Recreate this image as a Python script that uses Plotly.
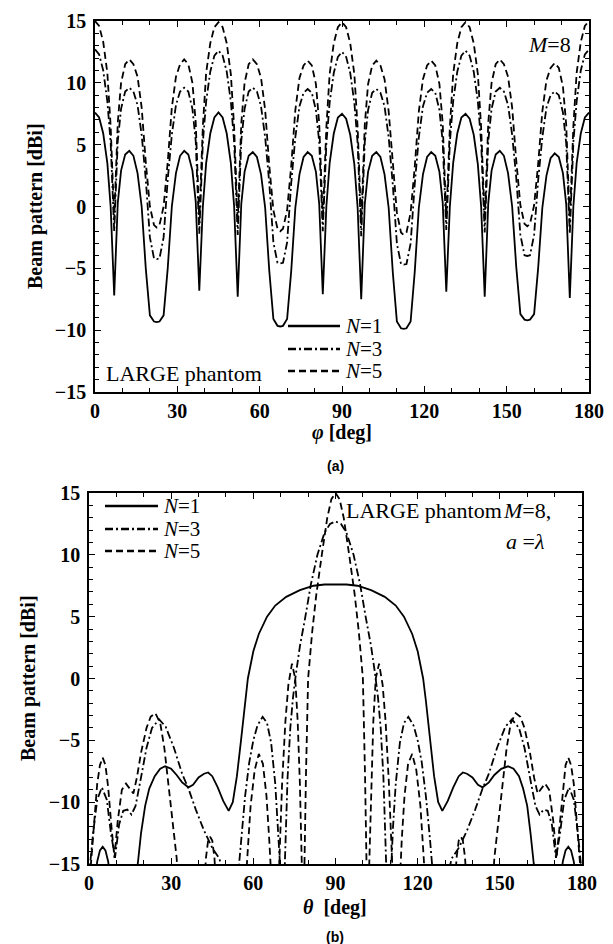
import plotly.graph_objects as go

# ---------------- DATA: (a) azimuth pattern ----------------
phi_deg = [
    0, 1.5, 3, 4.5, 5.7, 7, 8.3, 9.5, 11, 12.5, 14, 15.5, 17, 18.5, 20, 21.5, 22.5, 23.5, 25, 26.5, 28, 29.5, 31, 32.5, 34, 35.5, 36.7, 38, 39.3, 40.5, 42, 43.5,
    45, 46.5, 48, 49.5, 50.7, 52, 53.3, 54.5, 56, 57.5, 59, 60.5, 62, 63.5, 65, 66.5, 67.5, 68.5, 70, 71.5, 73, 74.5, 76, 77.5, 79, 80.5, 81.7, 83, 84.3, 85.5, 87, 88.5,
    90, 91.5, 93, 94.5, 95.7, 97, 98.3, 99.5, 101, 102.5, 104, 105.5, 107, 108.5, 110, 111.5, 112.5, 113.5, 115, 116.5, 118, 119.5, 121, 122.5, 124, 125.5, 126.7, 128, 129.3, 130.5, 132, 133.5,
    135, 136.5, 138, 139.5, 140.7, 142, 143.3, 144.5, 146, 147.5, 149, 150.5, 152, 153.5, 155, 156.5, 157.5, 158.5, 160, 161.5, 163, 164.5, 166, 167.5, 169, 170.5, 171.7, 173, 174.3, 175.5, 177, 178.5,
    180,
]
az_n1 = [
    7.6, 7.2, 5.9, 3.5, 0.0, -7.2, 0.3, 2.9, 4.2, 4.5, 4.1, 2.7, 0.0, -5.0, -8.8, -9.3, -9.35, -9.3, -8.8, -5.0, 0.0, 2.7, 4.1, 4.5, 4.2, 2.9, 0.4, -6.8, 0.0, 3.5, 5.9, 7.2,
    7.6, 7.2, 5.9, 3.5, 0.0, -7.3, 0.2, 2.8, 4.1, 4.4, 4.0, 2.6, -0.1, -5.2, -9.1, -9.65, -9.7, -9.65, -9.1, -5.2, -0.1, 2.6, 4.0, 4.4, 4.1, 2.8, 0.2, -7.1, 0.0, 3.5, 5.9, 7.2,
    7.5, 7.1, 5.8, 3.4, -0.1, -7.5, 0.2, 2.8, 4.1, 4.4, 4.0, 2.6, -0.1, -5.3, -9.3, -9.85, -9.9, -9.85, -9.3, -5.3, -0.1, 2.6, 4.0, 4.4, 4.1, 2.8, 0.3, -6.9, 0.0, 3.5, 5.9, 7.2,
    7.5, 7.1, 5.8, 3.4, 0.0, -7.3, 0.3, 2.9, 4.2, 4.5, 4.1, 2.7, 0.0, -4.9, -8.7, -9.15, -9.2, -9.15, -8.7, -4.9, -0.1, 2.5, 3.9, 4.3, 4.0, 2.7, 0.2, -7.4, 0.0, 3.5, 5.9, 7.2,
    7.6,
]
az_n3 = [
    12.7, 12.3, 11.0, 8.5, 5.2, -2.0, 5.3, 7.9, 9.3, 9.6, 9.3, 8.2, 5.8, 2.2, -2.5, -4.2, -4.25, -4.2, -2.5, 2.2, 5.8, 8.2, 9.3, 9.6, 9.3, 7.9, 5.3, -2.2, 5.2, 8.5, 10.9, 12.2,
    12.6, 12.2, 10.9, 8.5, 5.2, -2.3, 5.3, 7.9, 9.3, 9.6, 9.3, 8.1, 5.6, 1.9, -2.9, -4.55, -4.6, -4.55, -2.9, 1.9, 5.6, 8.1, 9.2, 9.5, 9.2, 7.8, 5.2, -2.0, 5.1, 8.4, 10.8, 12.1,
    12.5, 12.1, 10.8, 8.4, 5.1, -2.4, 5.2, 7.8, 9.2, 9.5, 9.2, 8.1, 5.6, 1.8, -3.0, -4.65, -4.7, -4.65, -3.0, 1.8, 5.6, 8.1, 9.2, 9.5, 9.2, 7.8, 5.2, -1.9, 5.2, 8.5, 10.9, 12.2,
    12.6, 12.2, 10.9, 8.5, 5.2, -2.1, 5.3, 7.9, 9.3, 9.6, 9.3, 8.2, 5.8, 2.3, -2.3, -3.95, -4.0, -3.95, -2.3, 2.2, 5.6, 8.0, 9.0, 9.3, 9.0, 7.6, 5.1, -2.2, 5.2, 8.5, 11.0, 12.3,
    12.7,
]
az_n5 = [
    15.0, 14.6, 13.3, 10.8, 6.5, -1.0, 6.8, 10.0, 11.5, 11.9, 11.5, 10.5, 8.0, 3.6, 0.0, -1.5, -1.7, -1.5, 0.0, 3.6, 8.0, 10.5, 11.5, 11.9, 11.5, 10.0, 6.8, -1.2, 6.5, 10.8, 13.2, 14.5,
    14.9, 14.5, 13.2, 10.7, 6.4, -1.3, 6.7, 10.0, 11.5, 11.9, 11.5, 10.4, 7.8, 3.3, -0.3, -1.8, -2.0, -1.8, -0.3, 3.3, 7.8, 10.4, 11.4, 11.8, 11.4, 9.9, 6.7, -1.1, 6.4, 10.7, 13.2, 14.5,
    14.9, 14.5, 13.2, 10.7, 6.4, -1.4, 6.6, 9.9, 11.4, 11.8, 11.4, 10.3, 7.7, 3.2, -0.5, -2.1, -2.3, -2.1, -0.5, 3.2, 7.7, 10.3, 11.4, 11.8, 11.4, 9.9, 6.7, -1.0, 6.4, 10.7, 13.2, 14.5,
    14.9, 14.5, 13.2, 10.7, 6.4, -1.2, 6.8, 10.0, 11.5, 11.9, 11.5, 10.5, 8.0, 3.7, 0.1, -1.4, -1.6, -1.4, 0.1, 3.5, 7.7, 10.2, 11.2, 11.6, 11.2, 9.7, 6.6, -1.3, 6.5, 10.8, 13.3, 14.6,
    15.0,
]

# ---------------- DATA: (b) elevation pattern ----------------
el_n1_theta = [0, 2, 3, 4, 5, 6, 7, 8, 10, 14, 17.8, 19, 20.5, 22, 24, 26, 27.8, 30, 32, 34, 36.3, 38, 40, 42, 43.5, 45, 47, 49, 51, 52.5, 54, 55.5, 57, 58, 60, 62, 65, 68, 72, 77, 82, 86, 90,
               94, 98, 103, 108, 112, 115, 118, 120, 122, 123, 124.5, 126, 127.5, 129, 131, 133, 135, 136.5, 138, 140, 142, 143.7, 146, 148, 150.5, 153, 155, 157, 158.5, 160, 161.2, 162.4, 166, 170, 172, 173, 174, 175, 176, 177, 178, 180]
el_n1 = [-19, -16.5, -14.8, -13.9, -13.6, -13.9, -14.8, -16.5, -20, -20, -15, -12.5, -10.3, -8.9, -7.9, -7.3, -7.1, -7.3, -7.8, -8.4, -8.8, -8.6, -8.0, -7.7, -7.6, -7.9, -8.8, -9.9, -10.7, -10.0, -7.9, -5.0, -1.8, 0.0, 2.2, 3.6, 5.0, 5.9, 6.6, 7.15, 7.5, 7.6, 7.6,
         7.6, 7.5, 7.15, 6.6, 5.9, 5.0, 3.6, 2.2, 0.0, -1.8, -5.0, -7.9, -10.0, -10.7, -9.9, -8.8, -7.9, -7.6, -7.7, -8.0, -8.6, -8.8, -8.4, -7.8, -7.3, -7.1, -7.3, -7.9, -8.9, -10.3, -12.5, -15, -20, -20, -16.5, -14.8, -13.9, -13.6, -13.9, -14.8, -16.5, -19]

el_n3_theta = [0, 1.5, 3, 4.7, 6.5, 8, 9.5, 11, 12.5, 14, 15.5, 17, 19, 21, 23, 25.6, 28, 31, 34, 36.3, 39, 42, 45, 47.7, 49.5, 52, 54, 55.5, 57, 58.5, 60, 61.5, 63.4, 65, 66.5, 68, 69, 70, 70.8, 71.5, 72.5, 73.5, 74.5, 75.5, 77, 79, 81, 83.4, 86, 88, 90,
               92, 94, 96.6, 99, 101, 103, 104.5, 105.5, 106.5, 107.5, 108.5, 109.2, 110, 111, 112, 113.5, 115, 116.6, 118.5, 120, 121.5, 123, 124.5, 126, 128, 130.5, 132.3, 135, 138, 141, 143.7, 146, 149, 152, 154.4, 157, 159, 161, 163, 164.5, 166, 167.5, 169, 170.5, 172, 173.5, 175.3, 177, 178.5, 180]
el_n3 = [-16, -12.5, -9.8, -8.8, -9.8, -12.5, -14.5, -11.8, -10.7, -10.6, -11.0, -10.3, -8.0, -5.6, -4.0, -3.3, -3.9, -5.6, -7.7, -8.9, -10.6, -12.3, -13.7, -14.6, -17, -20, -17, -13, -9.5, -6.8, -5.0, -3.8, -3.1, -3.6, -5.2, -8.5, -12, -17, -19, -15, -8.0, -4.0, -1.5, 0.3, 2.6, 5.0, 7.6, 10.0, 11.8, 12.5, 12.7,
         12.5, 11.8, 10.0, 7.6, 5.0, 2.6, 0.3, -1.5, -4.0, -8.0, -15, -19, -17, -12, -8.5, -5.2, -3.6, -3.1, -3.8, -5.0, -6.8, -9.5, -13, -17, -20, -17, -14.6, -13.7, -12.3, -10.6, -8.9, -7.7, -5.6, -3.9, -3.3, -4.0, -5.6, -8.0, -10.3, -11.0, -10.6, -10.7, -11.8, -14.5, -12.5, -9.8, -8.8, -9.8, -12.5, -16]

el_n5_theta = [0, 1.5, 3, 4, 5, 6, 7, 8.2, 9.3, 10.5, 12, 13.5, 15, 16.2, 17.5, 19, 21, 22.5, 24.2, 26, 27.5, 29, 30.5, 32, 33.5, 38, 41.5, 42.7, 43.5, 44.2, 45, 45.8, 47, 52, 56.5, 57.8, 59, 60.5, 62, 63.5, 64.8, 65.8, 66.8, 68, 69.3, 70.5, 71.7, 72.8, 74.1, 75.3, 76.2, 77, 77.8, 78.3, 79.2, 80, 81.5, 83, 85, 87, 88.5, 90,
               91.5, 93, 95, 97, 98.5, 100, 100.8, 101.7, 102.2, 103, 103.8, 104.7, 105.9, 107.2, 108.3, 109.5, 110.7, 112, 113.2, 114.2, 115.2, 116.5, 118, 119.5, 121, 122.2, 123.5, 128, 133, 134.2, 135, 135.8, 136.5, 137.3, 138.5, 142, 146.5, 148, 149.5, 151, 152.5, 154, 155.8, 157.5, 159, 161, 162.5, 163.8, 165, 166.5, 168, 169.5, 170.7, 171.8, 173, 174, 175, 176, 177, 178.5, 180]
el_n5 = [-17, -12.5, -8.5, -7.0, -6.4, -7.0, -8.8, -12, -14.5, -11.5, -9.0, -8.5, -8.9, -9.3, -8.0, -6.0, -4.0, -3.1, -2.8, -3.6, -5.6, -8.5, -11.5, -14.5, -20, -25, -19, -14.5, -13.1, -12.8, -13.1, -14.5, -19, -25, -19, -14.5, -10.3, -7.4, -6.1, -6.9, -9.5, -13, -18, -22, -16, -8.5, -3.5, -0.5, 1.2, 0.0, -3.5, -8.5, -16, -20, -8, 0.0, 3.8, 6.8, 10.0, 13.0, 14.5, 15.0,
         14.5, 13.0, 10.0, 6.8, 3.8, 0.0, -8, -20, -16, -8.5, -3.5, 0.0, 1.2, -0.5, -3.5, -8.5, -16, -22, -18, -13, -9.5, -6.9, -6.1, -7.4, -10.3, -14.5, -19, -25, -19, -14.5, -13.1, -12.8, -13.1, -14.5, -19, -25, -20, -14.5, -11.5, -8.5, -5.6, -3.6, -2.8, -3.1, -4.0, -6.0, -8.0, -9.3, -8.9, -8.5, -9.0, -11.5, -14.5, -12, -8.8, -7.0, -6.4, -7.0, -8.5, -12.5, -17]

series_labels = ["<i>N</i>=1", "<i>N</i>=3", "<i>N</i>=5"]
x_ticks = [0, 30, 60, 90, 120, 150, 180]
y_ticks = [-15, -10, -5, 0, 5, 10, 15]

assert len(phi_deg) == len(az_n1) == len(az_n3) == len(az_n5)
assert len(el_n1_theta) == len(el_n1)
assert len(el_n3_theta) == len(el_n3)
assert len(el_n5_theta) == len(el_n5)

# ---------------- FIGURE ----------------
W, H = 613, 944
SERIF = "Liberation Serif"
SANS = "Liberation Sans"
DASHES = ["solid", "8px,3px,2px,3px", "7px,4px"]
LW = 1.8

def px(x):
    return x / W

def py(y):
    return 1 - y / H

fig = go.Figure()
for ys, dash, name in zip([az_n1, az_n3, az_n5], DASHES, series_labels):
    fig.add_trace(go.Scatter(x=phi_deg, y=ys, mode="lines", name=name, showlegend=False,
                             line=dict(color="black", width=LW, dash=dash), xaxis="x", yaxis="y"))
for xs, ys, dash, name in zip([el_n1_theta, el_n3_theta, el_n5_theta], [el_n1, el_n3, el_n5], DASHES, series_labels):
    fig.add_trace(go.Scatter(x=xs, y=ys, mode="lines", name=name, showlegend=False,
                             line=dict(color="black", width=LW, dash=dash), xaxis="x2", yaxis="y2"))

tickfont = dict(family=SERIF, size=20, color="black", weight="bold")

def xaxis(domain, anchor):
    return dict(domain=domain, anchor=anchor, range=[0, 180], tickvals=x_ticks, ticks="inside",
                ticklen=6, tickwidth=1.3, tickcolor="black", mirror="allticks", showline=True,
                linecolor="black", linewidth=1.6, showgrid=False, zeroline=False, tickfont=tickfont,
                ticklabelstandoff=0, automargin=False,
                minor=dict(dtick=10, ticks="inside", ticklen=4, tickwidth=1.1, tickcolor="black", showgrid=False))

def yaxis(domain, anchor):
    return dict(domain=domain, anchor=anchor, range=[-15, 15], tickvals=y_ticks, ticks="inside",
                ticklen=6, tickwidth=1.3, tickcolor="black", mirror="allticks", showline=True,
                linecolor="black", linewidth=1.6, showgrid=False, zeroline=False, tickfont=tickfont,
                ticklabelstandoff=3, automargin=False,
                minor=dict(dtick=1, ticks="inside", ticklen=4, tickwidth=1.1, tickcolor="black", showgrid=False))

top_x = [px(87), px(581)]
top_y = [py(384), py(13)]
bot_x = [px(81), px(574)]
bot_y = [py(856), py(485)]

annotations = []
shapes = []

def text(x, y, s, size=22, family=SERIF, xanchor="center", angle=0, bold=False):
    annotations.append(dict(x=px(x), y=py(y), xref="paper", yref="paper", text=s, showarrow=False,
                            xanchor=xanchor, yanchor="middle", textangle=angle,
                            font=dict(family=family, size=size, color="black", weight="bold" if bold else "normal")))

def legend(x0, x1, ys, tx):
    for yy, dash, lab in zip(ys, DASHES, series_labels):
        shapes.append(dict(type="line", xref="paper", yref="paper", x0=px(x0), x1=px(x1), y0=py(yy), y1=py(yy),
                           line=dict(color="black", width=2.6, dash=dash)))
        text(tx, yy, lab, size=21, xanchor="left")

# top panel texts
text(27, 198, "Beam pattern [dBi]", size=20, angle=-90, bold=True)
text(334, 424, "<i>φ</i> [deg]", size=20, bold=True)
text(327, 458, "(a)", size=14, family=SANS, bold=True)
text(565, 36, "<i>M</i>=8", xanchor="right")
text(96, 366, "LARGE phantom", xanchor="left")
legend(280, 332, [318, 341, 363], 335)

# bottom panel texts
text(20, 670, "Beam pattern [dBi]", size=20, angle=-90, bold=True)
text(327, 899, "<i>θ</i>  [deg]", size=20, bold=True)
text(327, 929, "(b)", size=14, family=SANS, bold=True)
text(336, 503, "LARGE phantom", xanchor="left")
text(493, 503, "<i>M</i>=8,", xanchor="left")
text(538, 533, "<i>a</i> =<i>λ</i>", xanchor="right")
legend(97, 150, [498, 521, 543], 153)

fig.update_layout(
    width=W, height=H, margin=dict(l=0, r=0, t=0, b=0, autoexpand=False),
    paper_bgcolor="white", plot_bgcolor="white", showlegend=False,
    xaxis=xaxis(top_x, "y"), yaxis=yaxis(top_y, "x"),
    xaxis2=xaxis(bot_x, "y2"), yaxis2=yaxis(bot_y, "x2"),
    annotations=annotations, shapes=shapes,
)

fig.write_html("out.html")
